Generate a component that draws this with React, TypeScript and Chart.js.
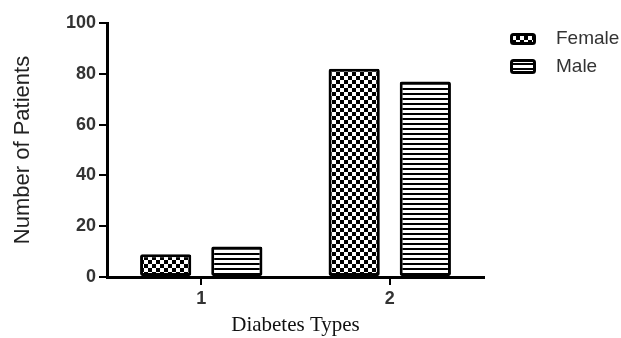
import React, { useEffect, useRef } from "react";
import { Chart, registerables } from "chart.js";

Chart.register(...registerables);

const categories = ["1", "2"];
const seriesNames = ["Female", "Male"];
const femaleValues = [9, 82];
const maleValues = [12, 77];
const yMin = 0;
const yMax = 100;
const yStep = 20;

const SANS = "'Liberation Sans', Arial, sans-serif";
const SERIF = "'Liberation Serif', 'Times New Roman', serif";

function makeChecker(): CanvasPattern | string {
  const c = document.createElement("canvas");
  c.width = 8;
  c.height = 8;
  const g = c.getContext("2d");
  if (!g) return "#000";
  g.fillStyle = "#fff";
  g.fillRect(0, 0, 8, 8);
  g.fillStyle = "#000";
  g.fillRect(0, 0, 4, 4);
  g.fillRect(4, 4, 4, 4);
  return g.createPattern(c, "repeat") || "#000";
}

function makeStripes(): CanvasPattern | string {
  const c = document.createElement("canvas");
  c.width = 8;
  c.height = 5;
  const g = c.getContext("2d");
  if (!g) return "#000";
  g.fillStyle = "#fff";
  g.fillRect(0, 0, 8, 5);
  g.fillStyle = "#000";
  g.fillRect(0, 3, 8, 2);
  return g.createPattern(c, "repeat") || "#000";
}

const legendPlugin = {
  id: "patternLegend",
  afterDraw(chart: any) {
    const { ctx, chartArea } = chart;
    const x0 = chartArea.right + 26;
    const rows = [
      { y: chartArea.top + 10, h: 12 },
      { y: chartArea.top + 36, h: 15 },
    ];
    ctx.save();
    chart.data.datasets.forEach((ds: any, i: number) => {
      const r = rows[i];
      const w = 26;
      ctx.fillStyle = ds.backgroundColor;
      ctx.strokeStyle = "#000";
      ctx.lineWidth = 3;
      ctx.beginPath();
      if ((ctx as any).roundRect) {
        (ctx as any).roundRect(x0 + 1.5, r.y + 1.5, w - 3, r.h - 3, 2);
      } else {
        ctx.rect(x0 + 1.5, r.y + 1.5, w - 3, r.h - 3);
      }
      ctx.fill();
      ctx.stroke();
      ctx.fillStyle = "#333";
      ctx.font = `19px ${SANS}`;
      ctx.textAlign = "left";
      ctx.textBaseline = "middle";
      ctx.fillText(ds.label, x0 + 46, r.y + r.h / 2);
    });
    ctx.restore();
  },
};

export default function App() {
  const ref = useRef<HTMLCanvasElement | null>(null);

  useEffect(() => {
    if (!ref.current) return;
    const female = makeChecker();
    const male = makeStripes();
    const chart = new Chart(ref.current, {
      type: "bar",
      data: {
        labels: categories,
        datasets: [
          {
            label: seriesNames[0],
            data: femaleValues,
            backgroundColor: female as any,
            borderColor: "#000",
            borderWidth: 3,
            borderSkipped: false,
            borderRadius: 2,
            categoryPercentage: 0.755,
            barPercentage: 0.72,
          },
          {
            label: seriesNames[1],
            data: maleValues,
            backgroundColor: male as any,
            borderColor: "#000",
            borderWidth: 3,
            borderSkipped: false,
            borderRadius: 2,
            categoryPercentage: 0.755,
            barPercentage: 0.72,
          },
        ],
      },
      options: {
        animation: false,
        responsive: true,
        maintainAspectRatio: false,
        layout: { padding: { top: 23, right: 137, bottom: 0, left: 0 } },
        plugins: {
          legend: { display: false },
          tooltip: { enabled: false },
        },
        scales: {
          x: {
            type: "category",
            offset: true,
            grid: {
              display: true,
              drawOnChartArea: false,
              drawTicks: true,
              tickLength: 8,
              color: "#000",
              lineWidth: 2,
              offset: false,
            },
            border: { display: true, color: "#000", width: 3 },
            ticks: { font: { family: SANS, size: 18, weight: "bold" }, color: "#333", padding: 3 },
            title: {
              display: true,
              text: "Diabetes Types",
              font: { family: SERIF, size: 21 },
              color: "#111",
              padding: { top: 0, bottom: 0 },
            },
            afterFit: (s: any) => {
              s.height = 61;
            },
          },
          y: {
            min: yMin,
            max: yMax,
            ticks: { stepSize: yStep, font: { family: SANS, size: 18, weight: "bold" }, color: "#333", padding: 3 },
            grid: {
              display: true,
              drawOnChartArea: false,
              drawTicks: true,
              tickLength: 8,
              color: "#000",
              lineWidth: 2,
            },
            border: { display: true, color: "#000", width: 3 },
            title: {
              display: true,
              text: "Number of Patients",
              font: { family: SANS, size: 22 },
              color: "#222",
              padding: { top: 10, bottom: 0 },
            },
            afterFit: (s: any) => {
              s.width = 107;
            },
          },
        },
      },
      plugins: [legendPlugin],
    });
    return () => chart.destroy();
  }, []);

  return (
    <div style={{ position: "absolute", left: 0, top: 0, width: 621, height: 338, background: "#fff" }}>
      <canvas ref={ref} />
    </div>
  );
}
